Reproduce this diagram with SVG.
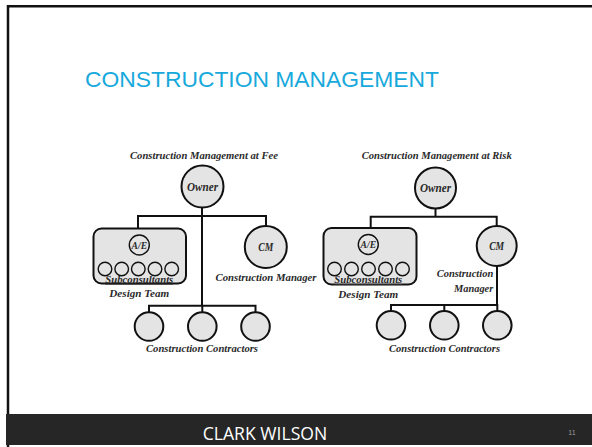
<svg xmlns="http://www.w3.org/2000/svg" width="592" height="447" viewBox="0 0 592 447">
  <style>
    .frame { fill: none; stroke: #111; stroke-width: 2.5; }
    .title { font-family: "Liberation Sans", Arial, sans-serif; font-size: 22.8px; fill: #17a9dc; }
    .footer { fill: #262626; }
    .footer-text { font-family: "Open Sans", "Liberation Sans", sans-serif; font-size: 17.6px; fill: #ffffff; }
    .page-no { font-family: "Liberation Sans", sans-serif; font-size: 7px; fill: #9a9a9a; }
    .node { fill: #e4e4e4; stroke: #111; stroke-width: 2; }
    .inner { fill: #e4e4e4; stroke: #111; stroke-width: 1.4; }
    .wire { fill: none; stroke: #111; stroke-width: 2; }
    .lbl { font-family: "Liberation Serif", "DejaVu Serif", serif; font-style: italic; font-weight: bold; font-size: 10px; fill: #2a2a2a; }
    .in { font-family: "Liberation Serif", "DejaVu Serif", serif; font-style: italic; font-weight: bold; font-size: 11.5px; fill: #2a2a2a; text-anchor: middle; }
    .small { font-size: 10.5px; }
    .mid { text-anchor: middle; }
    .end { text-anchor: end; }
  </style>

  <!-- slide frame -->
  <rect x="0" y="0" width="592" height="447" fill="#ffffff"/>
  <path class="frame" d="M8 447 V6.2 H592"/>
  <rect class="footer" x="6" y="414" width="586" height="31"/>
  <text class="footer-text mid" x="265" y="439.5">CLARK WILSON</text>
  <text class="page-no mid" x="572" y="434.5">11</text>

  <text class="title" x="85" y="86.7" textLength="354" lengthAdjust="spacingAndGlyphs">CONSTRUCTION MANAGEMENT</text>

  <!-- connectors -->
  <g id="connectors">
    <!-- at fee -->
    <path class="wire" d="M202 208 V305.7"/>
    <path class="wire" d="M138 228.5 V216 H266 V226"/>
    <path class="wire" d="M149 312 V305.7 H255.5 V312 M202.3 305.7 V312"/>
    <!-- at risk -->
    <path class="wire" d="M435.5 208.5 V216.7"/>
    <path class="wire" d="M370.7 228 V216.7 H496.7 V226"/>
    <path class="wire" d="M497 266 V305 M391 311 V305 H497.3 V311 M444.3 305 V311"/>
  </g>

  <!-- construction management at fee -->
  <g id="fee-title">
    <text class="lbl mid" x="204" y="159" textLength="148" lengthAdjust="spacingAndGlyphs">Construction Management at Fee</text>
  </g>
  <g id="fee-owner">
    <circle class="node" cx="202.5" cy="186.5" r="21"/>
    <text class="in" x="202.5" y="190.5" textLength="31" lengthAdjust="spacingAndGlyphs">Owner</text>
  </g>
  <g id="fee-design-team">
    <rect class="node" x="93.5" y="228.5" width="92.5" height="55" rx="8"/>
    <circle class="inner" cx="139.3" cy="245" r="10"/>
    <text class="in small" x="139.3" y="248.7" textLength="15.5" lengthAdjust="spacingAndGlyphs">A/E</text>
    <circle class="inner" cx="105" cy="269" r="6.8"/>
    <circle class="inner" cx="121.7" cy="269" r="6.8"/>
    <circle class="inner" cx="138.3" cy="269" r="6.8"/>
    <circle class="inner" cx="155" cy="269" r="6.8"/>
    <circle class="inner" cx="171.7" cy="269" r="6.8"/>
    <text class="in small" x="139.3" y="282.5" text-decoration="underline" textLength="68" lengthAdjust="spacingAndGlyphs">Subconsultants</text>
    <text class="in small" x="139.3" y="297" textLength="60" lengthAdjust="spacingAndGlyphs">Design Team</text>
  </g>
  <g id="fee-cm">
    <circle class="node" cx="265.8" cy="247" r="21"/>
    <text class="in" x="265.8" y="251" textLength="15" lengthAdjust="spacingAndGlyphs">CM</text>
    <text class="lbl" x="215.5" y="281" textLength="101" lengthAdjust="spacingAndGlyphs">Construction Manager</text>
  </g>
  <g id="fee-contractors">
    <circle class="node" cx="149" cy="326.5" r="14.3"/>
    <circle class="node" cx="202.3" cy="326.5" r="14.3"/>
    <circle class="node" cx="255.5" cy="326.5" r="14.3"/>
    <text class="lbl mid" x="202" y="352" textLength="112" lengthAdjust="spacingAndGlyphs">Construction Contractors</text>
  </g>

  <!-- construction management at risk -->
  <g id="risk-title">
    <text class="lbl mid" x="436.7" y="159" textLength="150" lengthAdjust="spacingAndGlyphs">Construction Management at Risk</text>
  </g>
  <g id="risk-owner">
    <circle class="node" cx="435.5" cy="188" r="20.5"/>
    <text class="in" x="435.5" y="192" textLength="31" lengthAdjust="spacingAndGlyphs">Owner</text>
  </g>
  <g id="risk-design-team">
    <rect class="node" x="323.5" y="228" width="93" height="56.5" rx="8"/>
    <circle class="inner" cx="368.3" cy="244.5" r="10"/>
    <text class="in small" x="368.3" y="248.2" textLength="15.5" lengthAdjust="spacingAndGlyphs">A/E</text>
    <circle class="inner" cx="334.5" cy="269" r="6.8"/>
    <circle class="inner" cx="351.5" cy="269" r="6.8"/>
    <circle class="inner" cx="368.5" cy="269" r="6.8"/>
    <circle class="inner" cx="385.5" cy="269" r="6.8"/>
    <circle class="inner" cx="402.5" cy="269" r="6.8"/>
    <text class="in small" x="368.3" y="283" text-decoration="underline" textLength="68" lengthAdjust="spacingAndGlyphs">Subconsultants</text>
    <text class="in small" x="368.3" y="298" textLength="60" lengthAdjust="spacingAndGlyphs">Design Team</text>
  </g>
  <g id="risk-cm">
    <circle class="node" cx="496.7" cy="246" r="20"/>
    <text class="in" x="496.7" y="250" textLength="15" lengthAdjust="spacingAndGlyphs">CM</text>
    <text class="lbl" x="436.7" y="277.3" textLength="56.6" lengthAdjust="spacingAndGlyphs">Construction</text>
    <text class="lbl" x="454" y="291.7" textLength="39.3" lengthAdjust="spacingAndGlyphs">Manager</text>
  </g>
  <g id="risk-contractors">
    <circle class="node" cx="391" cy="325.3" r="14.3"/>
    <circle class="node" cx="444.3" cy="325.3" r="14.3"/>
    <circle class="node" cx="497.3" cy="325.3" r="14.3"/>
    <text class="lbl mid" x="444.5" y="352" textLength="111" lengthAdjust="spacingAndGlyphs">Construction Contractors</text>
  </g>
</svg>
